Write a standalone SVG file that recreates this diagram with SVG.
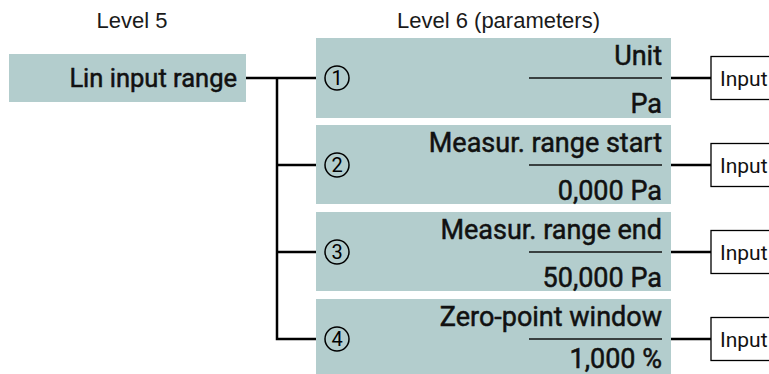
<svg xmlns="http://www.w3.org/2000/svg" width="769" height="374" viewBox="0 0 769 374">
<style>
.hdr{font-family:"Liberation Sans",Arial,sans-serif;font-size:22px;fill:#1a1a1a}
.box{fill:#b3cdcd}
.lbl{font-family:Roboto,sans-serif;font-weight:400;font-size:27px;fill:#111;stroke:#111;stroke-width:0.5;text-anchor:end}
.big{font-size:25.5px}
.sep{stroke:#111;stroke-width:1.4}
.conn{stroke:#000;stroke-width:2.5;fill:none}
.num{fill:none;stroke:#000;stroke-width:1.5}
.numt{font-family:Roboto,"Liberation Sans",Arial,sans-serif;font-size:20px;fill:#000;text-anchor:middle}
.inp{fill:#fff;stroke:#000;stroke-width:1.3}
.inpt{font-family:Roboto,"Liberation Sans",Arial,sans-serif;font-size:21px;fill:#111}
</style>
<rect width="769" height="374" fill="#fff"/>
<text class="hdr" x="132" y="28" text-anchor="middle">Level 5</text>
<text class="hdr" x="397" y="28">Level 6 (parameters)</text>
<g id="connectors">
<path class="conn" d="M246,78 H316 M277,78 V339 H316 M277,165 H316 M277,252 H316"/>
<path class="conn" d="M671,78 H711 M671,165 H711 M671,252 H711 M671,339 H711"/>
</g>
<g id="lin-input-range">
<rect class="box" x="9" y="54" width="237" height="48"/>
<text class="lbl big" x="237" y="87">Lin input range</text>
</g>
<g id="param1">
<rect class="box" x="316" y="38" width="355" height="80"/>
<circle class="num" cx="337" cy="78" r="12"/>
<text class="numt" x="337" y="85">1</text>
<text class="lbl" x="662" y="65">Unit</text>
<line class="sep" x1="529" y1="78" x2="662" y2="78"/>
<text class="lbl" x="662" y="112.5">Pa</text>
</g>
<g id="param2">
<rect class="box" x="316" y="125" width="355" height="79"/>
<circle class="num" cx="337" cy="165" r="12"/>
<text class="numt" x="337" y="172">2</text>
<text class="lbl" x="662" y="152">Measur. range start</text>
<line class="sep" x1="529" y1="165" x2="662" y2="165"/>
<text class="lbl" x="662" y="199.5">0,000 Pa</text>
</g>
<g id="param3">
<rect class="box" x="316" y="212" width="355" height="79"/>
<circle class="num" cx="337" cy="252" r="12"/>
<text class="numt" x="337" y="259">3</text>
<text class="lbl" x="662" y="239">Measur. range end</text>
<line class="sep" x1="529" y1="252" x2="662" y2="252"/>
<text class="lbl" x="662" y="286.5">50,000 Pa</text>
</g>
<g id="param4">
<rect class="box" x="316" y="299" width="355" height="80"/>
<circle class="num" cx="337" cy="339" r="12"/>
<text class="numt" x="337" y="346">4</text>
<text class="lbl" x="662" y="326">Zero-point window</text>
<line class="sep" x1="529" y1="339" x2="662" y2="339"/>
<text class="lbl" x="662" y="367.5">1,000 %</text>
</g>
<g id="input1"><rect class="inp" x="711" y="56.5" width="80" height="43"/><text class="inpt" x="720" y="86">Input</text></g>
<g id="input2"><rect class="inp" x="711" y="143.5" width="80" height="43"/><text class="inpt" x="720" y="173">Input</text></g>
<g id="input3"><rect class="inp" x="711" y="230.5" width="80" height="43"/><text class="inpt" x="720" y="260">Input</text></g>
<g id="input4"><rect class="inp" x="711" y="317.5" width="80" height="43"/><text class="inpt" x="720" y="347">Input</text></g>
</svg>
